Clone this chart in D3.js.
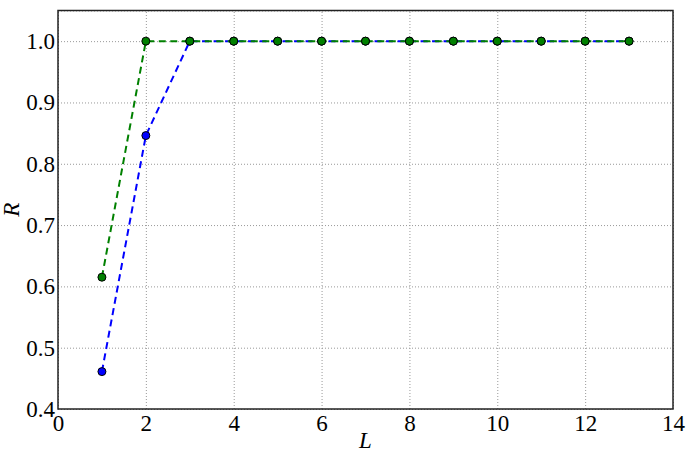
<!DOCTYPE html>
<html>
<head>
<meta charset="utf-8">
<script src="https://cdn.jsdelivr.net/npm/d3@7"></script>
<style>
    body { margin: 0; background: #fff; }
    .grid line { stroke: #999; stroke-width: 1; stroke-dasharray: 1,2; }
    .grid .domain { display: none; }
    .tickaxis .domain, .tickaxis line { display: none; }
</style>
</head>
<body>
<div class="chart"></div>
<script>
(function () {

    // DATA
    var L = [1, 2, 3, 4, 5, 6, 7, 8, 9, 10, 11, 12, 13];
    var blueR = [0.461, 0.846, 1.0, 1.0, 1.0, 1.0, 1.0, 1.0, 1.0, 1.0, 1.0, 1.0, 1.0];
    var greenR = [0.615, 1.0, 1.0, 1.0, 1.0, 1.0, 1.0, 1.0, 1.0, 1.0, 1.0, 1.0, 1.0];
    var xTicks = [0, 2, 4, 6, 8, 10, 12, 14];
    var yTicks = [0.4, 0.5, 0.6, 0.7, 0.8, 0.9, 1.0];

    var series = [
        { name: "blue", color: "#0000ff", values: blueR },
        { name: "green", color: "#008000", values: greenR }
    ];

    var serif = "'Liberation Serif', 'Times New Roman', Times, serif";

    //SET DIMENSIONS
    var margin = { top: 10.5, right: 13, bottom: 46, left: 58 },
        width = 686 - margin.left - margin.right,
        height = 455 - margin.top - margin.bottom;

    var x = d3.scaleLinear().domain([0, 14]).range([0, width]);
    var y = d3.scaleLinear().domain([0.4, 1.05]).range([height, 0]);

    var svg = d3.select(".chart").append("svg")
        .attr("width", 686)
        .attr("height", 455)
        .append("g")
        .attr("transform", "translate(" + margin.left + "," + margin.top + ")");

    //X GRID
    svg.append("g")
        .attr("class", "grid")
        .attr("transform", "translate(0," + height + ")")
        .call(d3.axisBottom(x).tickValues(xTicks).tickSize(-height).tickFormat(""));

    //Y GRID
    svg.append("g")
        .attr("class", "grid")
        .call(d3.axisLeft(y).tickValues(yTicks.concat([1.05])).tickSize(-width).tickFormat(""));

    //LINES
    var line = d3.line()
        .x(function (d, i) { return x(L[i]); })
        .y(function (d) { return y(d); });

    series.forEach(function (s) {
        svg.append("path")
            .datum(s.values)
            .attr("fill", "none")
            .attr("stroke", s.color)
            .attr("stroke-width", 2)
            .attr("stroke-dasharray", "7,4.5")
            .attr("d", line);
    });

    //MARKERS
    series.forEach(function (s) {
        svg.selectAll(".pt-" + s.name)
            .data(s.values)
            .enter().append("circle")
            .attr("class", "pt-" + s.name)
            .attr("cx", function (d, i) { return x(L[i]); })
            .attr("cy", function (d) { return y(d); })
            .attr("r", 4)
            .attr("fill", s.color)
            .attr("stroke", "#000")
            .attr("stroke-width", 1);
    });

    //FRAME
    svg.append("rect")
        .attr("width", width)
        .attr("height", height)
        .attr("fill", "none")
        .attr("stroke", "#222")
        .attr("stroke-width", 1.5);

    //Add X
    var xa = svg.append("g")
        .attr("class", "tickaxis")
        .attr("transform", "translate(0," + height + ")")
        .call(d3.axisBottom(x).tickValues(xTicks).tickSize(0).tickPadding(6).tickFormat(d3.format("d")));

    //Add Y
    var ya = svg.append("g")
        .attr("class", "tickaxis")
        .call(d3.axisLeft(y).tickValues(yTicks).tickSize(0).tickPadding(3).tickFormat(d3.format(".1f")));

    [xa, ya].forEach(function (g) {
        g.attr("font-family", serif).attr("font-size", 23);
        g.selectAll("text")
            .style("font-family", serif)
            .style("font-size", "23px")
            .attr("fill", "#000");
    });

    //LABELS
    svg.append("text")
        .attr("text-anchor", "middle")
        .attr("x", width / 2)
        .attr("y", height + 39)
        .style("font-family", serif)
        .style("font-size", "23px")
        .style("font-style", "italic")
        .attr("fill", "#000")
        .text("L");

    svg.append("text")
        .attr("text-anchor", "middle")
        .attr("transform", "translate(" + (-39) + "," + (height / 2) + ") rotate(-90)")
        .style("font-family", serif)
        .style("font-size", "23px")
        .style("font-style", "italic")
        .attr("fill", "#000")
        .text("R");

})();
</script>
</body>
</html>
